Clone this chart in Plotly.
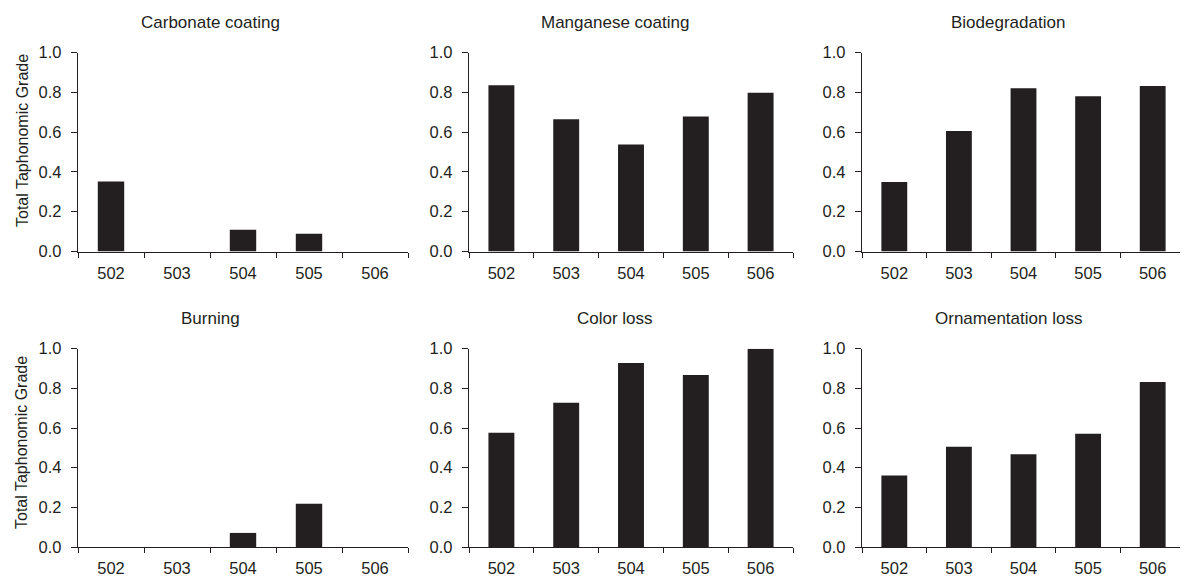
import plotly.graph_objects as go

categories = ["502", "503", "504", "505", "506"]
titles = ["Carbonate coating", "Manganese coating", "Biodegradation",
          "Burning", "Color loss", "Ornamentation loss"]
carbonate = [0.352, 0.0, 0.109, 0.089, 0.0]
manganese = [0.835, 0.664, 0.538, 0.679, 0.798]
biodegradation = [0.349, 0.606, 0.820, 0.780, 0.832]
burning = [0.0, 0.0, 0.071, 0.218, 0.0]
color_loss = [0.576, 0.728, 0.928, 0.867, 1.0]
ornamentation = [0.360, 0.505, 0.468, 0.571, 0.832]
series = [carbonate, manganese, biodegradation, burning, color_loss, ornamentation]
y_title = "Total Taphonomic Grade"

OFF = 8  # browser default body margin
W, H = 1188 - OFF, 579 - OFF
FONT = "Liberation Sans, Arial, sans-serif"
DARK = "#231f20"

# pixel layout (page coordinates)
col_px = [(78, 408), (469, 793), (862, 1185)]
row_px = [(52.5, 251.5), (348.7, 547)]
title_x_px = [210, 615, 1008]
title_y_px = [22, 318]
ytitle_y_px = [141, 443]


def px(v):
    return (v - OFF) / W


def py(v):
    return (H - (v - OFF)) / H


fig = go.Figure()
for i, vals in enumerate(series):
    r, c = divmod(i, 3)
    n = i + 1
    xa = "x" if n == 1 else f"x{n}"
    ya = "y" if n == 1 else f"y{n}"
    fig.add_trace(go.Bar(x=categories, y=vals, xaxis=xa, yaxis=ya,
                         width=0.4, marker=dict(color=DARK, line=dict(width=0)),
                         showlegend=False, cliponaxis=False))
    x0, x1 = col_px[c]
    yt, yb = row_px[r]
    xkey = "xaxis" if n == 1 else f"xaxis{n}"
    ykey = "yaxis" if n == 1 else f"yaxis{n}"
    fig.layout[xkey] = dict(
        domain=[px(x0), min(px(x1), 1.0)], anchor=ya, type="category",
        automargin=False,
        range=[-0.5, 4.5], showline=True, linecolor=DARK, linewidth=1.4,
        ticks="outside", tickson="boundaries", ticklen=5, tickwidth=1.4,
        tickcolor=DARK, showgrid=False, zeroline=False, ticklabelstandoff=6,
        tickfont=dict(family=FONT, size=16.5, color=DARK), fixedrange=True)
    fig.layout[ykey] = dict(
        domain=[py(yb), py(yt)], anchor=xa, automargin=False,
        range=[0, 1.0], dtick=0.2, tick0=0, tickformat=".1f",
        showline=True, linecolor=DARK, linewidth=1.4,
        ticks="outside", ticklen=6, tickwidth=1.4, tickcolor=DARK,
        showgrid=False, zeroline=False, ticklabelstandoff=6,
        tickfont=dict(family=FONT, size=16.5, color=DARK), fixedrange=True)
    fig.add_annotation(text=titles[i], x=px(title_x_px[c]),
                       y=py(title_y_px[r]), xref="paper", yref="paper",
                       xanchor="center", yanchor="middle", showarrow=False,
                       font=dict(family=FONT, size=17, color=DARK))
    if c == 0:
        fig.add_annotation(text=y_title, x=px(22), y=py(ytitle_y_px[r]),
                           xref="paper", yref="paper", textangle=-90,
                           xanchor="center", yanchor="middle", showarrow=False,
                           font=dict(family=FONT, size=16, color=DARK))

fig.update_layout(width=W, height=H, autosize=False,
                  margin=dict(l=0, r=0, t=0, b=0, pad=0, autoexpand=False),
                  paper_bgcolor="white", plot_bgcolor="white",
                  bargap=0.6)
fig.write_html("out.html", config={"displayModeBar": False})
